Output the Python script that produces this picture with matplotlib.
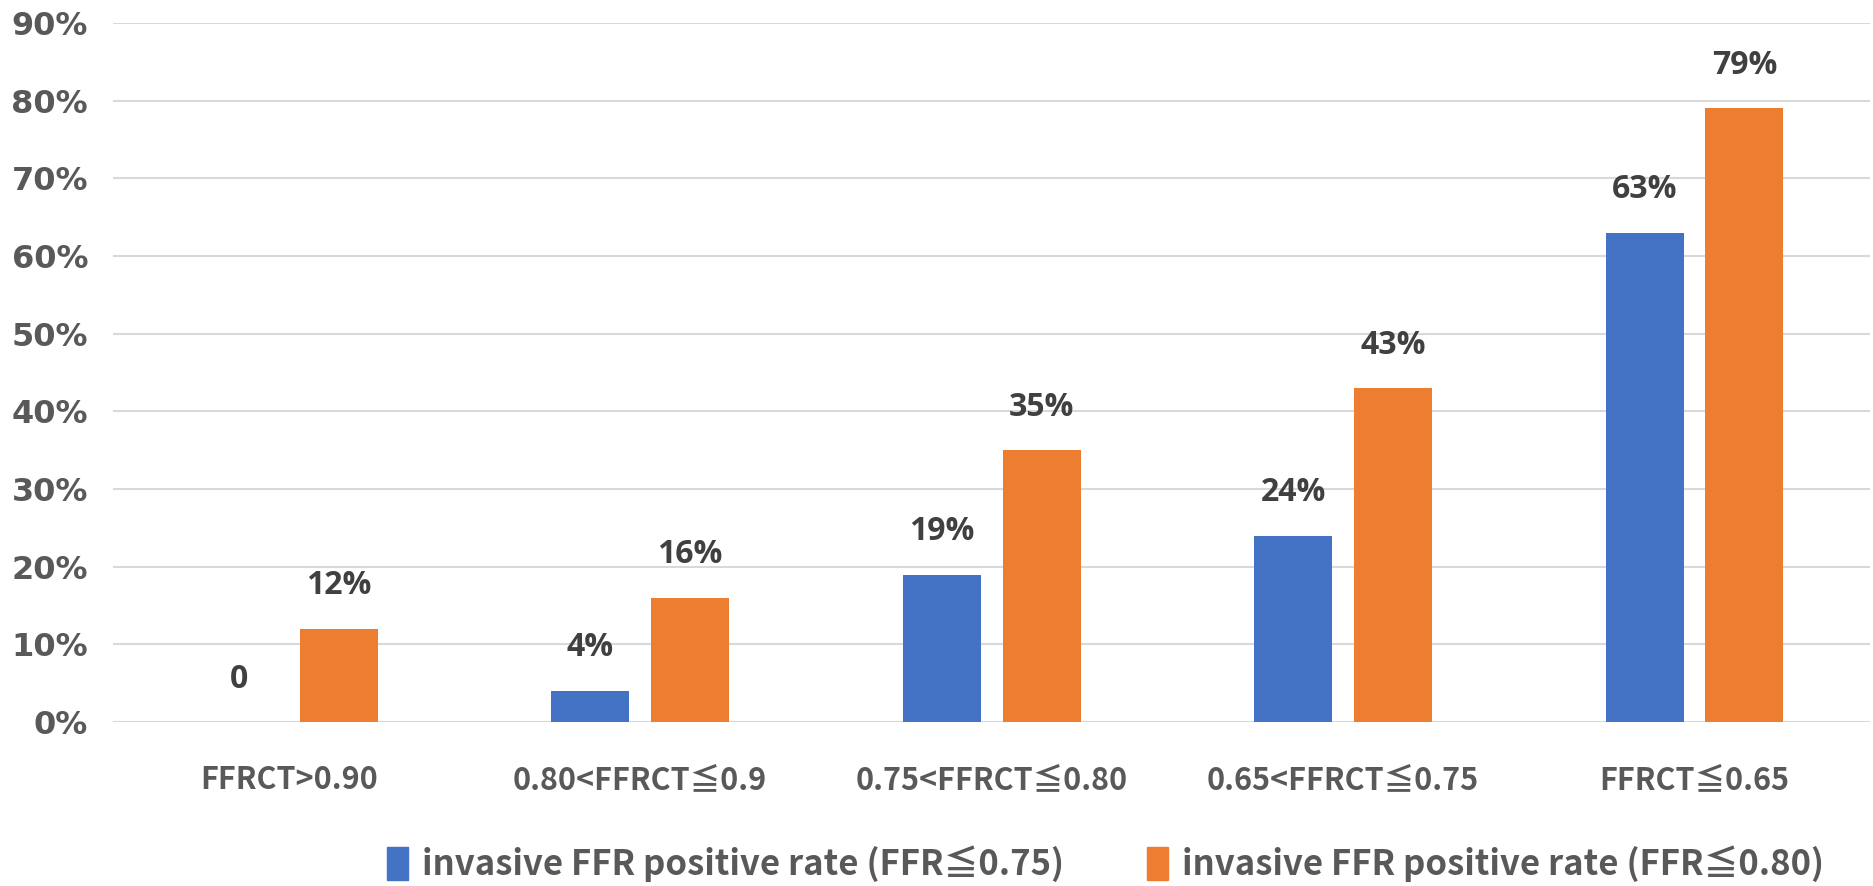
import numpy as np
from matplotlib import pyplot as plt
from matplotlib.patches import Patch

categories = ['FFRCT>0.90', '0.80<FFRCT≦0.9', '0.75<FFRCT≦0.80', '0.65<FFRCT≦0.75', 'FFRCT≦0.65']
ffr075 = [0.0, 0.04, 0.19, 0.24, 0.63]
ffr080 = [0.12, 0.16, 0.35, 0.43, 0.79]
labels075 = ['0', '4%', '19%', '24%', '63%']
labels080 = ['12%', '16%', '35%', '43%', '79%']
series_names = ['invasive FFR positive rate (FFR≦0.75)', 'invasive FFR positive rate (FFR≦0.80)']
yticks = np.arange(0, 1.0, 0.1)

blue = '#4472C4'
orange = '#ED7D31'
grey = '#595959'
narrow = ['Liberation Sans Narrow', 'Noto Sans CJK JP', 'DejaVu Sans']

fig = plt.figure(figsize=(18.74, 8.86), dpi=100)
ax = fig.add_axes([0.0603, 0.185, 0.9377, 0.789])

x = np.arange(len(categories))
w = 0.222
off = 0.142
b1 = ax.bar(x - off, ffr075, w, color=blue, zorder=3)
b2 = ax.bar(x + off, ffr080, w, color=orange, zorder=3)

for bars, labs in ((b1, labels075), (b2, labels080)):
    for rect, lab in zip(bars, labs):
        ax.annotate(lab, (rect.get_x() + rect.get_width() / 2, rect.get_height()),
                    xytext=(0, 31), textcoords='offset points', ha='center', va='center',
                    fontsize=23, fontweight='bold', color='#404040', family='Open Sans')

ax.set_xlim(-0.5, len(categories) - 0.5)
ax.set_ylim(0, 0.9)
ax.set_yticks(yticks)
ax.set_yticklabels(['%d%%' % round(v * 100) for v in yticks], fontsize=23,
                   fontweight='bold', color=grey, family='DejaVu Sans')
ax.set_xticks(x)
ax.set_xticklabels(categories, fontsize=22, fontweight='bold', color=grey, family=narrow)
ax.tick_params(axis='both', length=0)
ax.tick_params(axis='x', pad=30)
ax.tick_params(axis='y', pad=18)
ax.grid(axis='y', color='#D9D9D9', linewidth=1.5, zorder=0)
for s in ax.spines.values():
    s.set_visible(False)

handles = [Patch(color=blue), Patch(color=orange)]
fig.legend(handles, series_names, loc='center', bbox_to_anchor=(0.59, 0.025), ncol=2,
           frameon=False, handlelength=0.6, handleheight=1.1, handletextpad=0.4,
           columnspacing=2.4, prop={'family': narrow, 'size': 25, 'weight': 'bold'},
           labelcolor=grey)

plt.savefig('out.png')
